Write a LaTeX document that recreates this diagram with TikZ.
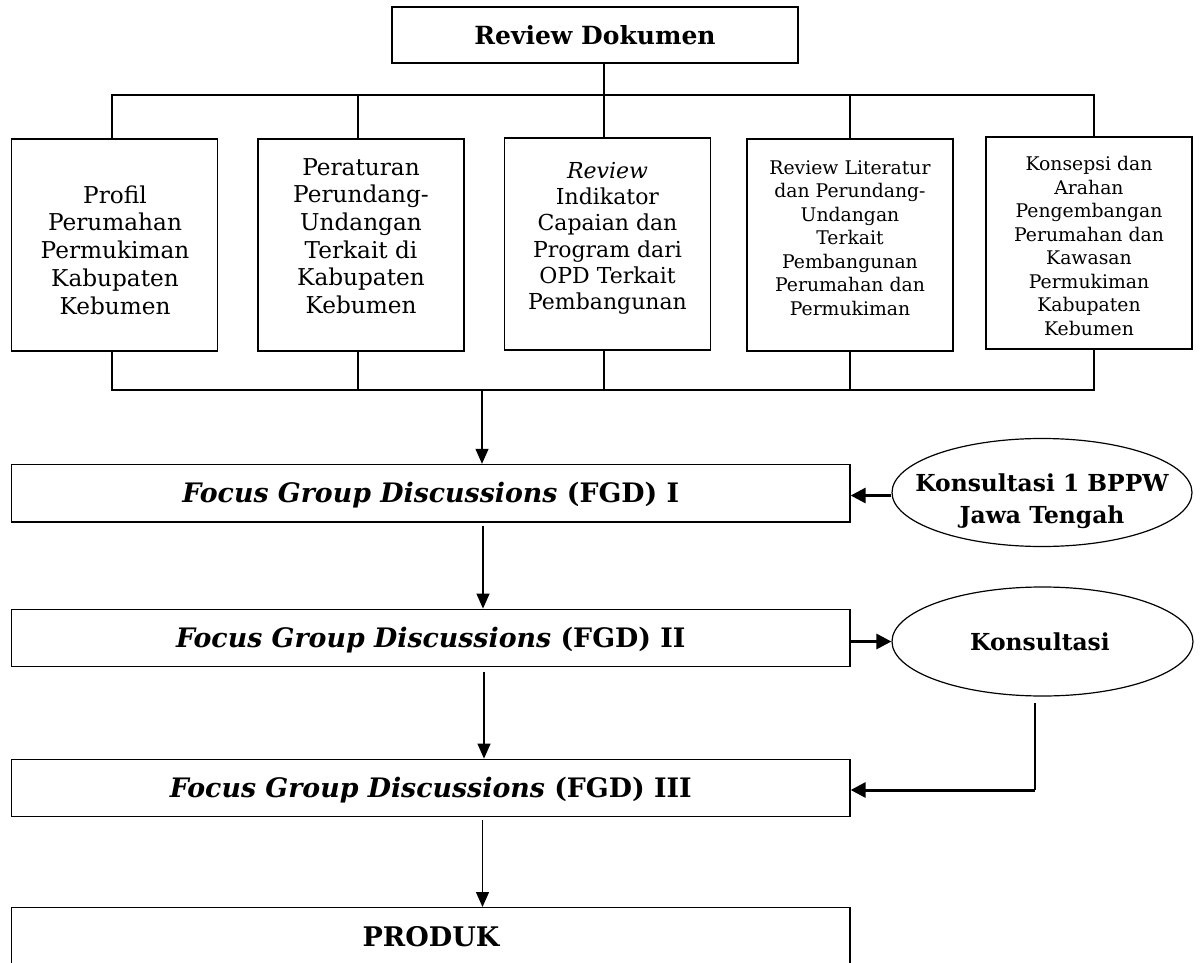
\documentclass[tikz,border=0pt]{standalone}
\usepackage{fontspec}
\setmainfont{DejaVu Serif}
\usetikzlibrary{arrows.meta,shapes.geometric}
\tikzset{
  ln/.style={line width=0.65pt, draw=black},
  boxed/.style={draw=black, line width=0.65pt, rectangle, inner sep=0pt},
  colbox/.style={boxed, minimum width=103pt, minimum height=106pt},
  bigtxt/.style={align=center, inner sep=0pt, font=\fontsize{11.6}{13.85}\selectfont},
  midtxt/.style={align=center, inner sep=0pt, font=\fontsize{11}{13.15}\selectfont},
  smltxt/.style={align=center, inner sep=0pt, font=\fontsize{9.4}{11.75}\selectfont},
  fgdbox/.style={boxed, minimum width=419.25pt, minimum height=28.75pt, text height=9.5pt, text depth=-3pt, font=\fontsize{13.4}{16}\selectfont\bfseries},
  oval/.style={draw=black, line width=0.6pt, ellipse, minimum width=150pt, minimum height=54pt, inner sep=0pt},
  ovaltxt/.style={align=center, inner sep=0pt, font=\fontsize{11.7}{16}\selectfont\bfseries},
  arr/.style={ln, -{Triangle[length=7.5pt,width=6.5pt]}},
  sarr/.style={line width=1.5pt, -{Triangle[length=7.5pt,width=7.5pt]}},
}
\begin{document}
\begin{tikzpicture}[x=0.5pt, y=-0.5pt]
\useasboundingbox (0,0) rectangle (1201,963);
\clip (0,0) rectangle (1201,963);
\fill[white] (0,0) rectangle (1201,963);

% top box
\node[boxed, minimum width=203pt, minimum height=28pt, font=\fontsize{12.5}{15}\selectfont\bfseries] (rev) at (595,35) {Review Dokumen};

% column boxes
\node[colbox] (b1) at (114.75,245) {};
\node[colbox] (b2) at (361,245) {};
\node[colbox] (b3) at (607.5,244) {};
\node[colbox] (b4) at (850,245) {};
\node[colbox] (b5) at (1089,243) {};

\node[bigtxt] (t1) at (115,250) {Profil\\Perumahan\\Permukiman\\Kabupaten\\Kebumen};
\node[bigtxt] (t2) at (361,236) {Peraturan\\Perundang-\\Undangan\\Terkait di\\Kabupaten\\Kebumen};
\node[midtxt] (t3) at (607.5,238.5) {\textit{Review}\\Indikator\\Capaian dan\\Program dari\\OPD Terkait\\Pembangunan};
\node[smltxt] (t4) at (850,238) {Review Literatur\\dan Perundang-\\Undangan\\Terkait\\Pembangunan\\Perumahan dan\\Permukiman};
\node[smltxt] (t5) at (1089,246) {Konsepsi dan\\Arahan\\Pengembangan\\Perumahan dan\\Kawasan\\Permukiman\\Kabupaten\\Kebumen};

% bus coordinates
\coordinate (s1) at (112,95);
\coordinate (s2) at (358,95);
\coordinate (s3) at (604,95);
\coordinate (s4) at (850,95);
\coordinate (s5) at (1094,95);
\coordinate (u1) at (112,390);
\coordinate (u2) at (358,390);
\coordinate (u3) at (604,390);
\coordinate (u4) at (850,390);
\coordinate (u5) at (1094,390);
\coordinate (sp) at (482,390);
\coordinate (c1) at (483,0);
\coordinate (c2) at (484,0);
\coordinate (c3) at (482.5,0);
\coordinate (k) at (1035,703);
\coordinate (kk) at (1035,790);

\draw[ln] (rev.south -| s3) -- (s3);
\draw[ln] (b1.north -| s1) -- (s1) -- (s5) -- (b5.north -| s5);
\draw[ln] (b2.north -| s2) -- (s2);
\draw[ln] (b3.north -| s3) -- (s3);
\draw[ln] (b4.north -| s4) -- (s4);
\draw[ln] (b1.south -| u1) -- (u1) -- (u5) -- (b5.south -| u5);
\draw[ln] (b2.south -| u2) -- (u2);
\draw[ln] (b3.south -| u3) -- (u3);
\draw[ln] (b4.south -| u4) -- (u4);

% FGD boxes
\node[fgdbox] (f1) at (430.75,493.2) {\textit{Focus Group Discussions} (FGD) I};
\node[fgdbox] (f2) at (430.75,638) {\textit{Focus Group Discussions} (FGD) II};
\node[fgdbox] (f3) at (430.75,788) {\textit{Focus Group Discussions} (FGD) III};
\node[boxed, minimum width=419.25pt, minimum height=45pt, anchor=north] (pr) at (430.75,907) {};
\node[inner sep=0pt, font=\fontsize{13.5}{16}\selectfont\bfseries] (prt) at (431,937) {PRODUK};

% ellipses
\node[oval] (e1) at (1042,492.5) {};
\node[ovaltxt] (e1t) at (1042,501) {Konsultasi 1 BPPW\\Jawa Tengah};
\node[oval, minimum width=150.5pt, minimum height=54.5pt] (e2) at (1042.5,641.5) {};
\node[ovaltxt] (e2t) at (1040,641.5) {Konsultasi};

% main flow arrows
\draw[arr] (sp) -- (f1.north -| sp);
\draw[arr, shorten <=1.5pt] (f1.south -| c1) -- (f2.north -| c1);
\draw[arr, shorten <=2.5pt] (f2.south -| c2) -- (f3.north -| c2);
\draw[arr, shorten <=1.5pt] (f3.south -| c3) -- (pr.north -| c3);

% side arrows
\draw[sarr] ([yshift=-1.5pt]e1.west) -- ([yshift=-1.5pt]e1.west -| f1.east);
\draw[sarr] (e2.west -| f2.east) -- (e2.west);
\draw[line width=1pt] (k) -- (kk);
\draw[sarr] (kk) -- (kk -| f3.east);
\end{tikzpicture}
\end{document}
